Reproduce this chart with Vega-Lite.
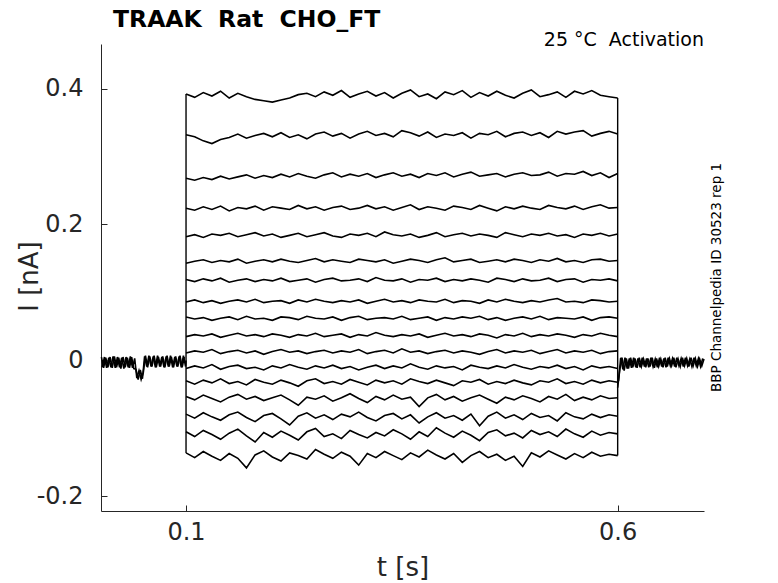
{
  "$schema": "https://vega.github.io/schema/vega-lite/v6.json",
  "width": 603,
  "height": 467,
  "autosize": {"type": "none"},
  "padding": {"left": 101, "top": 44, "right": 74, "bottom": 72},
  "background": "white",
  "title": {
    "text": "TRAAK\u00a0 Rat\u00a0 CHO_FT",
    "anchor": "start",
    "frame": "group",
    "dx": 12,
    "offset": -1,
    "font": "DejaVu Sans",
    "fontSize": 23.5,
    "fontWeight": "bold",
    "color": "#000000"
  },
  "config": {
    "view": {"stroke": null},
    "axis": {
      "grid": false,
      "domainColor": "#262626",
      "tickColor": "#262626",
      "labelColor": "#262626",
      "titleColor": "#262626",
      "labelFont": "DejaVu Sans",
      "titleFont": "DejaVu Sans",
      "labelFontSize": 24,
      "titleFontSize": 26,
      "titleFontWeight": "normal",
      "tickSize": -6,
      "tickWidth": 1,
      "domainWidth": 1
    }
  },
  "datasets": {
    "edges": [
      {"t": 0.1, "lo": -0.136, "hi": 0.392},
      {"t": 0.6, "lo": -0.140, "hi": 0.386}
    ],
    "traces": [
      {"k":0,"t":0.002,"v":0.005},{"k":0,"t":0.0045,"v":-0.011},{"k":0,"t":0.007,"v":0.004},{"k":0,"t":0.0095,"v":-0.010},{"k":0,"t":0.012,"v":0.005},{"k":0,"t":0.0145,"v":-0.011},{"k":0,"t":0.017,"v":0.006},{"k":0,"t":0.0195,"v":-0.010},{"k":0,"t":0.022,"v":0.004},{"k":0,"t":0.0245,"v":-0.012},{"k":0,"t":0.027,"v":0.005},{"k":0,"t":0.0295,"v":-0.010},{"k":0,"t":0.032,"v":0.004},{"k":0,"t":0.0345,"v":-0.011},{"k":0,"t":0.037,"v":0.005},{"k":0,"t":0.0395,"v":-0.012},{"k":0,"t":0.042,"v":-0.013},{"k":0,"t":0.0445,"v":-0.028},{"k":0,"t":0.047,"v":-0.014},{"k":0,"t":0.0495,"v":-0.027},{"k":0,"t":0.052,"v":0.006},{"k":0,"t":0.0545,"v":-0.009},{"k":0,"t":0.057,"v":0.007},{"k":0,"t":0.0595,"v":-0.009},{"k":0,"t":0.062,"v":0.006},{"k":0,"t":0.0645,"v":-0.010},{"k":0,"t":0.067,"v":0.007},{"k":0,"t":0.0695,"v":-0.009},{"k":0,"t":0.072,"v":0.005},{"k":0,"t":0.0745,"v":-0.010},{"k":0,"t":0.077,"v":0.006},{"k":0,"t":0.0795,"v":-0.009},{"k":0,"t":0.082,"v":0.007},{"k":0,"t":0.0845,"v":-0.010},{"k":0,"t":0.087,"v":0.005},{"k":0,"t":0.0895,"v":-0.009},{"k":0,"t":0.092,"v":0.006},{"k":0,"t":0.0945,"v":-0.010},{"k":0,"t":0.097,"v":0.007},{"k":0,"t":0.0995,"v":-0.009},{"k":0,"t":0.1,"v":0.0},

      {"k":19,"t":0.003,"v":-0.010},{"k":19,"t":0.0055,"v":0.005},{"k":19,"t":0.008,"v":-0.011},{"k":19,"t":0.0105,"v":0.004},{"k":19,"t":0.013,"v":-0.010},{"k":19,"t":0.0155,"v":0.006},{"k":19,"t":0.018,"v":-0.011},{"k":19,"t":0.0205,"v":0.005},{"k":19,"t":0.023,"v":-0.010},{"k":19,"t":0.0255,"v":0.004},{"k":19,"t":0.028,"v":-0.012},{"k":19,"t":0.0305,"v":0.005},{"k":19,"t":0.033,"v":-0.010},{"k":19,"t":0.0355,"v":0.006},{"k":19,"t":0.038,"v":-0.011},{"k":19,"t":0.0405,"v":0.003},{"k":19,"t":0.043,"v":-0.026},{"k":19,"t":0.0455,"v":-0.015},{"k":19,"t":0.048,"v":-0.028},{"k":19,"t":0.0505,"v":-0.018},{"k":19,"t":0.053,"v":0.007},{"k":19,"t":0.0555,"v":-0.010},{"k":19,"t":0.058,"v":0.006},{"k":19,"t":0.0605,"v":-0.009},{"k":19,"t":0.063,"v":0.007},{"k":19,"t":0.0655,"v":-0.010},{"k":19,"t":0.068,"v":0.005},{"k":19,"t":0.0705,"v":-0.009},{"k":19,"t":0.073,"v":0.006},{"k":19,"t":0.0755,"v":-0.010},{"k":19,"t":0.078,"v":0.007},{"k":19,"t":0.0805,"v":-0.009},{"k":19,"t":0.083,"v":0.005},{"k":19,"t":0.0855,"v":-0.010},{"k":19,"t":0.088,"v":0.006},{"k":19,"t":0.0905,"v":-0.009},{"k":19,"t":0.093,"v":0.007},{"k":19,"t":0.0955,"v":-0.010},{"k":19,"t":0.098,"v":0.005},

      {"k":18,"t":0.6,"v":-0.040},{"k":18,"t":0.6025,"v":-0.013},{"k":18,"t":0.605,"v":0.004},{"k":18,"t":0.6075,"v":-0.015},{"k":18,"t":0.61,"v":0.003},{"k":18,"t":0.6125,"v":-0.012},{"k":18,"t":0.615,"v":0.004},{"k":18,"t":0.6175,"v":-0.010},{"k":18,"t":0.62,"v":0.003},{"k":18,"t":0.6225,"v":-0.011},{"k":18,"t":0.625,"v":0.004},{"k":18,"t":0.6275,"v":-0.009},{"k":18,"t":0.63,"v":0.002},{"k":18,"t":0.6325,"v":-0.010},{"k":18,"t":0.635,"v":0.003},{"k":18,"t":0.6375,"v":-0.009},{"k":18,"t":0.64,"v":0.004},{"k":18,"t":0.6425,"v":-0.011},{"k":18,"t":0.645,"v":0.003},{"k":18,"t":0.6475,"v":-0.009},{"k":18,"t":0.65,"v":0.002},{"k":18,"t":0.6525,"v":-0.010},{"k":18,"t":0.655,"v":0.004},{"k":18,"t":0.6575,"v":-0.009},{"k":18,"t":0.66,"v":0.003},{"k":18,"t":0.6625,"v":-0.008},{"k":18,"t":0.665,"v":0.004},{"k":18,"t":0.6675,"v":-0.010},{"k":18,"t":0.67,"v":0.002},{"k":18,"t":0.6725,"v":-0.009},{"k":18,"t":0.675,"v":0.004},{"k":18,"t":0.6775,"v":-0.008},{"k":18,"t":0.68,"v":0.003},{"k":18,"t":0.6825,"v":-0.009},{"k":18,"t":0.685,"v":0.004},{"k":18,"t":0.6875,"v":-0.008},{"k":18,"t":0.69,"v":0.003},{"k":18,"t":0.6925,"v":-0.009},{"k":18,"t":0.695,"v":0.002},{"k":18,"t":0.6975,"v":-0.008},{"k":18,"t":0.7,"v":0.002},

      {"k":20,"t":0.601,"v":-0.030},{"k":20,"t":0.6035,"v":0.004},{"k":20,"t":0.606,"v":-0.013},{"k":20,"t":0.6085,"v":0.004},{"k":20,"t":0.611,"v":-0.012},{"k":20,"t":0.6135,"v":0.003},{"k":20,"t":0.616,"v":-0.011},{"k":20,"t":0.6185,"v":0.004},{"k":20,"t":0.621,"v":-0.010},{"k":20,"t":0.6235,"v":0.003},{"k":20,"t":0.626,"v":-0.010},{"k":20,"t":0.6285,"v":0.004},{"k":20,"t":0.631,"v":-0.009},{"k":20,"t":0.6335,"v":0.003},{"k":20,"t":0.636,"v":-0.010},{"k":20,"t":0.6385,"v":0.004},{"k":20,"t":0.641,"v":-0.009},{"k":20,"t":0.6435,"v":0.002},{"k":20,"t":0.646,"v":-0.010},{"k":20,"t":0.6485,"v":0.004},{"k":20,"t":0.651,"v":-0.009},{"k":20,"t":0.6535,"v":0.003},{"k":20,"t":0.656,"v":-0.010},{"k":20,"t":0.6585,"v":0.004},{"k":20,"t":0.661,"v":-0.008},{"k":20,"t":0.6635,"v":0.003},{"k":20,"t":0.666,"v":-0.009},{"k":20,"t":0.6685,"v":0.004},{"k":20,"t":0.671,"v":-0.008},{"k":20,"t":0.6735,"v":0.003},{"k":20,"t":0.676,"v":-0.009},{"k":20,"t":0.6785,"v":0.004},{"k":20,"t":0.681,"v":-0.008},{"k":20,"t":0.6835,"v":0.002},{"k":20,"t":0.686,"v":-0.009},{"k":20,"t":0.6885,"v":0.004},{"k":20,"t":0.691,"v":-0.008},{"k":20,"t":0.6935,"v":0.003},{"k":20,"t":0.696,"v":-0.009},{"k":20,"t":0.6985,"v":0.003},

      {"k":1,"t":0.1,"v":0.392},{"k":1,"t":0.11,"v":0.387},{"k":1,"t":0.12,"v":0.394},{"k":1,"t":0.13,"v":0.389},{"k":1,"t":0.14,"v":0.396},{"k":1,"t":0.15,"v":0.386},{"k":1,"t":0.16,"v":0.393},{"k":1,"t":0.17,"v":0.388},{"k":1,"t":0.18,"v":0.384},{"k":1,"t":0.19,"v":0.382},{"k":1,"t":0.2,"v":0.380},{"k":1,"t":0.21,"v":0.383},{"k":1,"t":0.22,"v":0.386},{"k":1,"t":0.23,"v":0.391},{"k":1,"t":0.24,"v":0.393},{"k":1,"t":0.25,"v":0.388},{"k":1,"t":0.26,"v":0.395},{"k":1,"t":0.27,"v":0.390},{"k":1,"t":0.28,"v":0.397},{"k":1,"t":0.29,"v":0.387},{"k":1,"t":0.3,"v":0.392},{"k":1,"t":0.31,"v":0.396},{"k":1,"t":0.32,"v":0.389},{"k":1,"t":0.33,"v":0.394},{"k":1,"t":0.34,"v":0.386},{"k":1,"t":0.35,"v":0.393},{"k":1,"t":0.36,"v":0.398},{"k":1,"t":0.37,"v":0.388},{"k":1,"t":0.38,"v":0.392},{"k":1,"t":0.39,"v":0.385},{"k":1,"t":0.4,"v":0.395},{"k":1,"t":0.41,"v":0.391},{"k":1,"t":0.42,"v":0.397},{"k":1,"t":0.43,"v":0.387},{"k":1,"t":0.44,"v":0.394},{"k":1,"t":0.45,"v":0.389},{"k":1,"t":0.46,"v":0.396},{"k":1,"t":0.47,"v":0.390},{"k":1,"t":0.48,"v":0.386},{"k":1,"t":0.49,"v":0.393},{"k":1,"t":0.5,"v":0.398},{"k":1,"t":0.51,"v":0.388},{"k":1,"t":0.52,"v":0.391},{"k":1,"t":0.53,"v":0.395},{"k":1,"t":0.54,"v":0.387},{"k":1,"t":0.55,"v":0.396},{"k":1,"t":0.56,"v":0.392},{"k":1,"t":0.57,"v":0.397},{"k":1,"t":0.58,"v":0.390},{"k":1,"t":0.59,"v":0.388},{"k":1,"t":0.6,"v":0.386},

      {"k":2,"t":0.1,"v":0.332},{"k":2,"t":0.11,"v":0.329},{"k":2,"t":0.12,"v":0.323},{"k":2,"t":0.13,"v":0.319},{"k":2,"t":0.14,"v":0.325},{"k":2,"t":0.15,"v":0.328},{"k":2,"t":0.16,"v":0.333},{"k":2,"t":0.17,"v":0.327},{"k":2,"t":0.18,"v":0.331},{"k":2,"t":0.19,"v":0.334},{"k":2,"t":0.2,"v":0.329},{"k":2,"t":0.21,"v":0.335},{"k":2,"t":0.22,"v":0.328},{"k":2,"t":0.23,"v":0.332},{"k":2,"t":0.24,"v":0.326},{"k":2,"t":0.25,"v":0.333},{"k":2,"t":0.26,"v":0.336},{"k":2,"t":0.27,"v":0.330},{"k":2,"t":0.28,"v":0.334},{"k":2,"t":0.29,"v":0.327},{"k":2,"t":0.3,"v":0.333},{"k":2,"t":0.31,"v":0.337},{"k":2,"t":0.32,"v":0.331},{"k":2,"t":0.33,"v":0.334},{"k":2,"t":0.34,"v":0.329},{"k":2,"t":0.35,"v":0.338},{"k":2,"t":0.36,"v":0.335},{"k":2,"t":0.37,"v":0.330},{"k":2,"t":0.38,"v":0.336},{"k":2,"t":0.39,"v":0.328},{"k":2,"t":0.4,"v":0.333},{"k":2,"t":0.41,"v":0.331},{"k":2,"t":0.42,"v":0.335},{"k":2,"t":0.43,"v":0.327},{"k":2,"t":0.44,"v":0.334},{"k":2,"t":0.45,"v":0.332},{"k":2,"t":0.46,"v":0.337},{"k":2,"t":0.47,"v":0.329},{"k":2,"t":0.48,"v":0.334},{"k":2,"t":0.49,"v":0.336},{"k":2,"t":0.5,"v":0.331},{"k":2,"t":0.51,"v":0.335},{"k":2,"t":0.52,"v":0.328},{"k":2,"t":0.53,"v":0.337},{"k":2,"t":0.54,"v":0.333},{"k":2,"t":0.55,"v":0.336},{"k":2,"t":0.56,"v":0.338},{"k":2,"t":0.57,"v":0.330},{"k":2,"t":0.58,"v":0.334},{"k":2,"t":0.59,"v":0.337},{"k":2,"t":0.6,"v":0.333},

      {"k":3,"t":0.1,"v":0.268},{"k":3,"t":0.11,"v":0.265},{"k":3,"t":0.12,"v":0.269},{"k":3,"t":0.13,"v":0.266},{"k":3,"t":0.14,"v":0.271},{"k":3,"t":0.15,"v":0.267},{"k":3,"t":0.16,"v":0.270},{"k":3,"t":0.17,"v":0.273},{"k":3,"t":0.18,"v":0.268},{"k":3,"t":0.19,"v":0.272},{"k":3,"t":0.2,"v":0.269},{"k":3,"t":0.21,"v":0.274},{"k":3,"t":0.22,"v":0.270},{"k":3,"t":0.23,"v":0.275},{"k":3,"t":0.24,"v":0.271},{"k":3,"t":0.25,"v":0.268},{"k":3,"t":0.26,"v":0.273},{"k":3,"t":0.27,"v":0.276},{"k":3,"t":0.28,"v":0.270},{"k":3,"t":0.29,"v":0.274},{"k":3,"t":0.3,"v":0.271},{"k":3,"t":0.31,"v":0.275},{"k":3,"t":0.32,"v":0.269},{"k":3,"t":0.33,"v":0.273},{"k":3,"t":0.34,"v":0.276},{"k":3,"t":0.35,"v":0.271},{"k":3,"t":0.36,"v":0.274},{"k":3,"t":0.37,"v":0.269},{"k":3,"t":0.38,"v":0.275},{"k":3,"t":0.39,"v":0.272},{"k":3,"t":0.4,"v":0.276},{"k":3,"t":0.41,"v":0.270},{"k":3,"t":0.42,"v":0.274},{"k":3,"t":0.43,"v":0.277},{"k":3,"t":0.44,"v":0.271},{"k":3,"t":0.45,"v":0.273},{"k":3,"t":0.46,"v":0.275},{"k":3,"t":0.47,"v":0.270},{"k":3,"t":0.48,"v":0.274},{"k":3,"t":0.49,"v":0.276},{"k":3,"t":0.5,"v":0.272},{"k":3,"t":0.51,"v":0.273},{"k":3,"t":0.52,"v":0.277},{"k":3,"t":0.53,"v":0.271},{"k":3,"t":0.54,"v":0.275},{"k":3,"t":0.55,"v":0.274},{"k":3,"t":0.56,"v":0.278},{"k":3,"t":0.57,"v":0.272},{"k":3,"t":0.58,"v":0.276},{"k":3,"t":0.59,"v":0.269},{"k":3,"t":0.6,"v":0.275},

      {"k":4,"t":0.1,"v":0.224},{"k":4,"t":0.11,"v":0.221},{"k":4,"t":0.12,"v":0.226},{"k":4,"t":0.13,"v":0.222},{"k":4,"t":0.14,"v":0.227},{"k":4,"t":0.15,"v":0.220},{"k":4,"t":0.16,"v":0.225},{"k":4,"t":0.17,"v":0.223},{"k":4,"t":0.18,"v":0.227},{"k":4,"t":0.19,"v":0.221},{"k":4,"t":0.2,"v":0.226},{"k":4,"t":0.21,"v":0.224},{"k":4,"t":0.22,"v":0.222},{"k":4,"t":0.23,"v":0.228},{"k":4,"t":0.24,"v":0.223},{"k":4,"t":0.25,"v":0.226},{"k":4,"t":0.26,"v":0.221},{"k":4,"t":0.27,"v":0.225},{"k":4,"t":0.28,"v":0.227},{"k":4,"t":0.29,"v":0.222},{"k":4,"t":0.3,"v":0.224},{"k":4,"t":0.31,"v":0.228},{"k":4,"t":0.32,"v":0.223},{"k":4,"t":0.33,"v":0.226},{"k":4,"t":0.34,"v":0.221},{"k":4,"t":0.35,"v":0.225},{"k":4,"t":0.36,"v":0.229},{"k":4,"t":0.37,"v":0.222},{"k":4,"t":0.38,"v":0.226},{"k":4,"t":0.39,"v":0.224},{"k":4,"t":0.4,"v":0.221},{"k":4,"t":0.41,"v":0.227},{"k":4,"t":0.42,"v":0.225},{"k":4,"t":0.43,"v":0.222},{"k":4,"t":0.44,"v":0.228},{"k":4,"t":0.45,"v":0.224},{"k":4,"t":0.46,"v":0.220},{"k":4,"t":0.47,"v":0.226},{"k":4,"t":0.48,"v":0.223},{"k":4,"t":0.49,"v":0.227},{"k":4,"t":0.5,"v":0.224},{"k":4,"t":0.51,"v":0.222},{"k":4,"t":0.52,"v":0.228},{"k":4,"t":0.53,"v":0.225},{"k":4,"t":0.54,"v":0.223},{"k":4,"t":0.55,"v":0.227},{"k":4,"t":0.56,"v":0.222},{"k":4,"t":0.57,"v":0.226},{"k":4,"t":0.58,"v":0.229},{"k":4,"t":0.59,"v":0.224},{"k":4,"t":0.6,"v":0.225},

      {"k":5,"t":0.1,"v":0.182},{"k":5,"t":0.11,"v":0.185},{"k":5,"t":0.12,"v":0.181},{"k":5,"t":0.13,"v":0.186},{"k":5,"t":0.14,"v":0.184},{"k":5,"t":0.15,"v":0.187},{"k":5,"t":0.16,"v":0.182},{"k":5,"t":0.17,"v":0.185},{"k":5,"t":0.18,"v":0.188},{"k":5,"t":0.19,"v":0.183},{"k":5,"t":0.2,"v":0.186},{"k":5,"t":0.21,"v":0.181},{"k":5,"t":0.22,"v":0.184},{"k":5,"t":0.23,"v":0.187},{"k":5,"t":0.24,"v":0.182},{"k":5,"t":0.25,"v":0.185},{"k":5,"t":0.26,"v":0.188},{"k":5,"t":0.27,"v":0.183},{"k":5,"t":0.28,"v":0.181},{"k":5,"t":0.29,"v":0.186},{"k":5,"t":0.3,"v":0.184},{"k":5,"t":0.31,"v":0.187},{"k":5,"t":0.32,"v":0.182},{"k":5,"t":0.33,"v":0.189},{"k":5,"t":0.34,"v":0.185},{"k":5,"t":0.35,"v":0.183},{"k":5,"t":0.36,"v":0.186},{"k":5,"t":0.37,"v":0.181},{"k":5,"t":0.38,"v":0.184},{"k":5,"t":0.39,"v":0.188},{"k":5,"t":0.4,"v":0.182},{"k":5,"t":0.41,"v":0.185},{"k":5,"t":0.42,"v":0.187},{"k":5,"t":0.43,"v":0.183},{"k":5,"t":0.44,"v":0.186},{"k":5,"t":0.45,"v":0.184},{"k":5,"t":0.46,"v":0.181},{"k":5,"t":0.47,"v":0.188},{"k":5,"t":0.48,"v":0.185},{"k":5,"t":0.49,"v":0.182},{"k":5,"t":0.5,"v":0.186},{"k":5,"t":0.51,"v":0.184},{"k":5,"t":0.52,"v":0.187},{"k":5,"t":0.53,"v":0.183},{"k":5,"t":0.54,"v":0.185},{"k":5,"t":0.55,"v":0.181},{"k":5,"t":0.56,"v":0.186},{"k":5,"t":0.57,"v":0.184},{"k":5,"t":0.58,"v":0.187},{"k":5,"t":0.59,"v":0.183},{"k":5,"t":0.6,"v":0.186},

      {"k":6,"t":0.1,"v":0.143},{"k":6,"t":0.11,"v":0.146},{"k":6,"t":0.12,"v":0.148},{"k":6,"t":0.13,"v":0.144},{"k":6,"t":0.14,"v":0.147},{"k":6,"t":0.15,"v":0.145},{"k":6,"t":0.16,"v":0.149},{"k":6,"t":0.17,"v":0.143},{"k":6,"t":0.18,"v":0.146},{"k":6,"t":0.19,"v":0.148},{"k":6,"t":0.2,"v":0.145},{"k":6,"t":0.21,"v":0.149},{"k":6,"t":0.22,"v":0.146},{"k":6,"t":0.23,"v":0.144},{"k":6,"t":0.24,"v":0.147},{"k":6,"t":0.25,"v":0.150},{"k":6,"t":0.26,"v":0.145},{"k":6,"t":0.27,"v":0.148},{"k":6,"t":0.28,"v":0.146},{"k":6,"t":0.29,"v":0.144},{"k":6,"t":0.3,"v":0.149},{"k":6,"t":0.31,"v":0.147},{"k":6,"t":0.32,"v":0.145},{"k":6,"t":0.33,"v":0.148},{"k":6,"t":0.34,"v":0.143},{"k":6,"t":0.35,"v":0.146},{"k":6,"t":0.36,"v":0.149},{"k":6,"t":0.37,"v":0.147},{"k":6,"t":0.38,"v":0.144},{"k":6,"t":0.39,"v":0.148},{"k":6,"t":0.4,"v":0.151},{"k":6,"t":0.41,"v":0.145},{"k":6,"t":0.42,"v":0.147},{"k":6,"t":0.43,"v":0.149},{"k":6,"t":0.44,"v":0.144},{"k":6,"t":0.45,"v":0.146},{"k":6,"t":0.46,"v":0.148},{"k":6,"t":0.47,"v":0.145},{"k":6,"t":0.48,"v":0.149},{"k":6,"t":0.49,"v":0.147},{"k":6,"t":0.5,"v":0.144},{"k":6,"t":0.51,"v":0.148},{"k":6,"t":0.52,"v":0.146},{"k":6,"t":0.53,"v":0.150},{"k":6,"t":0.54,"v":0.145},{"k":6,"t":0.55,"v":0.147},{"k":6,"t":0.56,"v":0.144},{"k":6,"t":0.57,"v":0.148},{"k":6,"t":0.58,"v":0.149},{"k":6,"t":0.59,"v":0.146},{"k":6,"t":0.6,"v":0.147},

      {"k":7,"t":0.1,"v":0.119},{"k":7,"t":0.11,"v":0.116},{"k":7,"t":0.12,"v":0.120},{"k":7,"t":0.13,"v":0.117},{"k":7,"t":0.14,"v":0.121},{"k":7,"t":0.15,"v":0.115},{"k":7,"t":0.16,"v":0.118},{"k":7,"t":0.17,"v":0.120},{"k":7,"t":0.18,"v":0.116},{"k":7,"t":0.19,"v":0.119},{"k":7,"t":0.2,"v":0.117},{"k":7,"t":0.21,"v":0.121},{"k":7,"t":0.22,"v":0.116},{"k":7,"t":0.23,"v":0.118},{"k":7,"t":0.24,"v":0.120},{"k":7,"t":0.25,"v":0.115},{"k":7,"t":0.26,"v":0.119},{"k":7,"t":0.27,"v":0.121},{"k":7,"t":0.28,"v":0.117},{"k":7,"t":0.29,"v":0.118},{"k":7,"t":0.3,"v":0.120},{"k":7,"t":0.31,"v":0.116},{"k":7,"t":0.32,"v":0.122},{"k":7,"t":0.33,"v":0.118},{"k":7,"t":0.34,"v":0.117},{"k":7,"t":0.35,"v":0.120},{"k":7,"t":0.36,"v":0.115},{"k":7,"t":0.37,"v":0.119},{"k":7,"t":0.38,"v":0.118},{"k":7,"t":0.39,"v":0.121},{"k":7,"t":0.4,"v":0.116},{"k":7,"t":0.41,"v":0.119},{"k":7,"t":0.42,"v":0.117},{"k":7,"t":0.43,"v":0.120},{"k":7,"t":0.44,"v":0.118},{"k":7,"t":0.45,"v":0.115},{"k":7,"t":0.46,"v":0.121},{"k":7,"t":0.47,"v":0.119},{"k":7,"t":0.48,"v":0.116},{"k":7,"t":0.49,"v":0.120},{"k":7,"t":0.5,"v":0.117},{"k":7,"t":0.51,"v":0.118},{"k":7,"t":0.52,"v":0.121},{"k":7,"t":0.53,"v":0.116},{"k":7,"t":0.54,"v":0.119},{"k":7,"t":0.55,"v":0.120},{"k":7,"t":0.56,"v":0.115},{"k":7,"t":0.57,"v":0.119},{"k":7,"t":0.58,"v":0.118},{"k":7,"t":0.59,"v":0.120},{"k":7,"t":0.6,"v":0.117},

      {"k":8,"t":0.1,"v":0.086},{"k":8,"t":0.11,"v":0.089},{"k":8,"t":0.12,"v":0.085},{"k":8,"t":0.13,"v":0.088},{"k":8,"t":0.14,"v":0.084},{"k":8,"t":0.15,"v":0.087},{"k":8,"t":0.16,"v":0.089},{"k":8,"t":0.17,"v":0.086},{"k":8,"t":0.18,"v":0.090},{"k":8,"t":0.19,"v":0.085},{"k":8,"t":0.2,"v":0.087},{"k":8,"t":0.21,"v":0.088},{"k":8,"t":0.22,"v":0.084},{"k":8,"t":0.23,"v":0.089},{"k":8,"t":0.24,"v":0.086},{"k":8,"t":0.25,"v":0.090},{"k":8,"t":0.26,"v":0.087},{"k":8,"t":0.27,"v":0.085},{"k":8,"t":0.28,"v":0.088},{"k":8,"t":0.29,"v":0.086},{"k":8,"t":0.3,"v":0.089},{"k":8,"t":0.31,"v":0.084},{"k":8,"t":0.32,"v":0.087},{"k":8,"t":0.33,"v":0.090},{"k":8,"t":0.34,"v":0.086},{"k":8,"t":0.35,"v":0.088},{"k":8,"t":0.36,"v":0.085},{"k":8,"t":0.37,"v":0.089},{"k":8,"t":0.38,"v":0.087},{"k":8,"t":0.39,"v":0.086},{"k":8,"t":0.4,"v":0.090},{"k":8,"t":0.41,"v":0.085},{"k":8,"t":0.42,"v":0.088},{"k":8,"t":0.43,"v":0.087},{"k":8,"t":0.44,"v":0.084},{"k":8,"t":0.45,"v":0.089},{"k":8,"t":0.46,"v":0.086},{"k":8,"t":0.47,"v":0.090},{"k":8,"t":0.48,"v":0.087},{"k":8,"t":0.49,"v":0.085},{"k":8,"t":0.5,"v":0.088},{"k":8,"t":0.51,"v":0.086},{"k":8,"t":0.52,"v":0.089},{"k":8,"t":0.53,"v":0.091},{"k":8,"t":0.54,"v":0.086},{"k":8,"t":0.55,"v":0.087},{"k":8,"t":0.56,"v":0.085},{"k":8,"t":0.57,"v":0.089},{"k":8,"t":0.58,"v":0.088},{"k":8,"t":0.59,"v":0.086},{"k":8,"t":0.6,"v":0.087},

      {"k":9,"t":0.1,"v":0.064},{"k":9,"t":0.11,"v":0.061},{"k":9,"t":0.12,"v":0.063},{"k":9,"t":0.13,"v":0.059},{"k":9,"t":0.14,"v":0.062},{"k":9,"t":0.15,"v":0.064},{"k":9,"t":0.16,"v":0.060},{"k":9,"t":0.17,"v":0.065},{"k":9,"t":0.18,"v":0.061},{"k":9,"t":0.19,"v":0.062},{"k":9,"t":0.2,"v":0.059},{"k":9,"t":0.21,"v":0.064},{"k":9,"t":0.22,"v":0.063},{"k":9,"t":0.23,"v":0.060},{"k":9,"t":0.24,"v":0.065},{"k":9,"t":0.25,"v":0.062},{"k":9,"t":0.26,"v":0.061},{"k":9,"t":0.27,"v":0.064},{"k":9,"t":0.28,"v":0.059},{"k":9,"t":0.29,"v":0.063},{"k":9,"t":0.3,"v":0.065},{"k":9,"t":0.31,"v":0.060},{"k":9,"t":0.32,"v":0.062},{"k":9,"t":0.33,"v":0.063},{"k":9,"t":0.34,"v":0.061},{"k":9,"t":0.35,"v":0.065},{"k":9,"t":0.36,"v":0.060},{"k":9,"t":0.37,"v":0.062},{"k":9,"t":0.38,"v":0.064},{"k":9,"t":0.39,"v":0.059},{"k":9,"t":0.4,"v":0.063},{"k":9,"t":0.41,"v":0.061},{"k":9,"t":0.42,"v":0.064},{"k":9,"t":0.43,"v":0.062},{"k":9,"t":0.44,"v":0.065},{"k":9,"t":0.45,"v":0.060},{"k":9,"t":0.46,"v":0.063},{"k":9,"t":0.47,"v":0.059},{"k":9,"t":0.48,"v":0.062},{"k":9,"t":0.49,"v":0.064},{"k":9,"t":0.5,"v":0.061},{"k":9,"t":0.51,"v":0.065},{"k":9,"t":0.52,"v":0.060},{"k":9,"t":0.53,"v":0.063},{"k":9,"t":0.54,"v":0.062},{"k":9,"t":0.55,"v":0.061},{"k":9,"t":0.56,"v":0.064},{"k":9,"t":0.57,"v":0.059},{"k":9,"t":0.58,"v":0.063},{"k":9,"t":0.59,"v":0.064},{"k":9,"t":0.6,"v":0.062},

      {"k":10,"t":0.1,"v":0.035},{"k":10,"t":0.11,"v":0.038},{"k":10,"t":0.12,"v":0.036},{"k":10,"t":0.13,"v":0.039},{"k":10,"t":0.14,"v":0.034},{"k":10,"t":0.15,"v":0.037},{"k":10,"t":0.16,"v":0.040},{"k":10,"t":0.17,"v":0.036},{"k":10,"t":0.18,"v":0.038},{"k":10,"t":0.19,"v":0.035},{"k":10,"t":0.2,"v":0.039},{"k":10,"t":0.21,"v":0.037},{"k":10,"t":0.22,"v":0.034},{"k":10,"t":0.23,"v":0.038},{"k":10,"t":0.24,"v":0.036},{"k":10,"t":0.25,"v":0.040},{"k":10,"t":0.26,"v":0.035},{"k":10,"t":0.27,"v":0.037},{"k":10,"t":0.28,"v":0.039},{"k":10,"t":0.29,"v":0.034},{"k":10,"t":0.3,"v":0.038},{"k":10,"t":0.31,"v":0.036},{"k":10,"t":0.32,"v":0.041},{"k":10,"t":0.33,"v":0.037},{"k":10,"t":0.34,"v":0.035},{"k":10,"t":0.35,"v":0.038},{"k":10,"t":0.36,"v":0.036},{"k":10,"t":0.37,"v":0.039},{"k":10,"t":0.38,"v":0.034},{"k":10,"t":0.39,"v":0.037},{"k":10,"t":0.4,"v":0.040},{"k":10,"t":0.41,"v":0.036},{"k":10,"t":0.42,"v":0.038},{"k":10,"t":0.43,"v":0.035},{"k":10,"t":0.44,"v":0.039},{"k":10,"t":0.45,"v":0.037},{"k":10,"t":0.46,"v":0.033},{"k":10,"t":0.47,"v":0.038},{"k":10,"t":0.48,"v":0.036},{"k":10,"t":0.49,"v":0.040},{"k":10,"t":0.5,"v":0.035},{"k":10,"t":0.51,"v":0.038},{"k":10,"t":0.52,"v":0.036},{"k":10,"t":0.53,"v":0.039},{"k":10,"t":0.54,"v":0.037},{"k":10,"t":0.55,"v":0.034},{"k":10,"t":0.56,"v":0.038},{"k":10,"t":0.57,"v":0.036},{"k":10,"t":0.58,"v":0.040},{"k":10,"t":0.59,"v":0.037},{"k":10,"t":0.6,"v":0.035},

      {"k":11,"t":0.1,"v":0.011},{"k":11,"t":0.11,"v":0.014},{"k":11,"t":0.12,"v":0.012},{"k":11,"t":0.13,"v":0.016},{"k":11,"t":0.14,"v":0.010},{"k":11,"t":0.15,"v":0.013},{"k":11,"t":0.16,"v":0.015},{"k":11,"t":0.17,"v":0.011},{"k":11,"t":0.18,"v":0.014},{"k":11,"t":0.19,"v":0.009},{"k":11,"t":0.2,"v":0.013},{"k":11,"t":0.21,"v":0.016},{"k":11,"t":0.22,"v":0.012},{"k":11,"t":0.23,"v":0.014},{"k":11,"t":0.24,"v":0.010},{"k":11,"t":0.25,"v":0.013},{"k":11,"t":0.26,"v":0.015},{"k":11,"t":0.27,"v":0.011},{"k":11,"t":0.28,"v":0.014},{"k":11,"t":0.29,"v":0.012},{"k":11,"t":0.3,"v":0.016},{"k":11,"t":0.31,"v":0.010},{"k":11,"t":0.32,"v":0.013},{"k":11,"t":0.33,"v":0.015},{"k":11,"t":0.34,"v":0.011},{"k":11,"t":0.35,"v":0.017},{"k":11,"t":0.36,"v":0.012},{"k":11,"t":0.37,"v":0.014},{"k":11,"t":0.38,"v":0.010},{"k":11,"t":0.39,"v":0.013},{"k":11,"t":0.4,"v":0.015},{"k":11,"t":0.41,"v":0.011},{"k":11,"t":0.42,"v":0.014},{"k":11,"t":0.43,"v":0.012},{"k":11,"t":0.44,"v":0.009},{"k":11,"t":0.45,"v":0.013},{"k":11,"t":0.46,"v":0.016},{"k":11,"t":0.47,"v":0.011},{"k":11,"t":0.48,"v":0.014},{"k":11,"t":0.49,"v":0.012},{"k":11,"t":0.5,"v":0.015},{"k":11,"t":0.51,"v":0.010},{"k":11,"t":0.52,"v":0.013},{"k":11,"t":0.53,"v":0.016},{"k":11,"t":0.54,"v":0.011},{"k":11,"t":0.55,"v":0.014},{"k":11,"t":0.56,"v":0.012},{"k":11,"t":0.57,"v":0.015},{"k":11,"t":0.58,"v":0.010},{"k":11,"t":0.59,"v":0.013},{"k":11,"t":0.6,"v":0.014},

      {"k":12,"t":0.1,"v":-0.012},{"k":12,"t":0.11,"v":-0.008},{"k":12,"t":0.12,"v":-0.011},{"k":12,"t":0.13,"v":-0.006},{"k":12,"t":0.14,"v":-0.013},{"k":12,"t":0.15,"v":-0.009},{"k":12,"t":0.16,"v":-0.007},{"k":12,"t":0.17,"v":-0.012},{"k":12,"t":0.18,"v":-0.010},{"k":12,"t":0.19,"v":-0.014},{"k":12,"t":0.2,"v":-0.008},{"k":12,"t":0.21,"v":-0.011},{"k":12,"t":0.22,"v":-0.006},{"k":12,"t":0.23,"v":-0.010},{"k":12,"t":0.24,"v":-0.013},{"k":12,"t":0.25,"v":-0.008},{"k":12,"t":0.26,"v":-0.011},{"k":12,"t":0.27,"v":-0.007},{"k":12,"t":0.28,"v":-0.012},{"k":12,"t":0.29,"v":-0.009},{"k":12,"t":0.3,"v":-0.014},{"k":12,"t":0.31,"v":-0.010},{"k":12,"t":0.32,"v":-0.007},{"k":12,"t":0.33,"v":-0.012},{"k":12,"t":0.34,"v":-0.008},{"k":12,"t":0.35,"v":-0.011},{"k":12,"t":0.36,"v":-0.005},{"k":12,"t":0.37,"v":-0.010},{"k":12,"t":0.38,"v":-0.013},{"k":12,"t":0.39,"v":-0.008},{"k":12,"t":0.4,"v":-0.011},{"k":12,"t":0.41,"v":-0.009},{"k":12,"t":0.42,"v":-0.014},{"k":12,"t":0.43,"v":-0.007},{"k":12,"t":0.44,"v":-0.010},{"k":12,"t":0.45,"v":-0.012},{"k":12,"t":0.46,"v":-0.008},{"k":12,"t":0.47,"v":-0.011},{"k":12,"t":0.48,"v":-0.006},{"k":12,"t":0.49,"v":-0.010},{"k":12,"t":0.5,"v":-0.013},{"k":12,"t":0.51,"v":-0.009},{"k":12,"t":0.52,"v":-0.011},{"k":12,"t":0.53,"v":-0.007},{"k":12,"t":0.54,"v":-0.012},{"k":12,"t":0.55,"v":-0.009},{"k":12,"t":0.56,"v":-0.014},{"k":12,"t":0.57,"v":-0.008},{"k":12,"t":0.58,"v":-0.011},{"k":12,"t":0.59,"v":-0.009},{"k":12,"t":0.6,"v":-0.012},

      {"k":13,"t":0.1,"v":-0.030},{"k":13,"t":0.11,"v":-0.035},{"k":13,"t":0.12,"v":-0.029},{"k":13,"t":0.13,"v":-0.033},{"k":13,"t":0.14,"v":-0.027},{"k":13,"t":0.15,"v":-0.034},{"k":13,"t":0.16,"v":-0.031},{"k":13,"t":0.17,"v":-0.036},{"k":13,"t":0.18,"v":-0.028},{"k":13,"t":0.19,"v":-0.032},{"k":13,"t":0.2,"v":-0.035},{"k":13,"t":0.21,"v":-0.029},{"k":13,"t":0.22,"v":-0.033},{"k":13,"t":0.23,"v":-0.038},{"k":13,"t":0.24,"v":-0.030},{"k":13,"t":0.25,"v":-0.027},{"k":13,"t":0.26,"v":-0.034},{"k":13,"t":0.27,"v":-0.031},{"k":13,"t":0.28,"v":-0.035},{"k":13,"t":0.29,"v":-0.028},{"k":13,"t":0.3,"v":-0.032},{"k":13,"t":0.31,"v":-0.036},{"k":13,"t":0.32,"v":-0.029},{"k":13,"t":0.33,"v":-0.033},{"k":13,"t":0.34,"v":-0.030},{"k":13,"t":0.35,"v":-0.035},{"k":13,"t":0.36,"v":-0.027},{"k":13,"t":0.37,"v":-0.031},{"k":13,"t":0.38,"v":-0.034},{"k":13,"t":0.39,"v":-0.029},{"k":13,"t":0.4,"v":-0.033},{"k":13,"t":0.41,"v":-0.037},{"k":13,"t":0.42,"v":-0.030},{"k":13,"t":0.43,"v":-0.032},{"k":13,"t":0.44,"v":-0.028},{"k":13,"t":0.45,"v":-0.035},{"k":13,"t":0.46,"v":-0.031},{"k":13,"t":0.47,"v":-0.034},{"k":13,"t":0.48,"v":-0.029},{"k":13,"t":0.49,"v":-0.033},{"k":13,"t":0.5,"v":-0.036},{"k":13,"t":0.51,"v":-0.030},{"k":13,"t":0.52,"v":-0.032},{"k":13,"t":0.53,"v":-0.027},{"k":13,"t":0.54,"v":-0.034},{"k":13,"t":0.55,"v":-0.031},{"k":13,"t":0.56,"v":-0.035},{"k":13,"t":0.57,"v":-0.029},{"k":13,"t":0.58,"v":-0.033},{"k":13,"t":0.59,"v":-0.030},{"k":13,"t":0.6,"v":-0.032},

      {"k":14,"t":0.1,"v":-0.053},{"k":14,"t":0.11,"v":-0.058},{"k":14,"t":0.12,"v":-0.051},{"k":14,"t":0.13,"v":-0.056},{"k":14,"t":0.14,"v":-0.061},{"k":14,"t":0.15,"v":-0.054},{"k":14,"t":0.16,"v":-0.050},{"k":14,"t":0.17,"v":-0.057},{"k":14,"t":0.18,"v":-0.053},{"k":14,"t":0.19,"v":-0.059},{"k":14,"t":0.2,"v":-0.055},{"k":14,"t":0.21,"v":-0.051},{"k":14,"t":0.22,"v":-0.058},{"k":14,"t":0.23,"v":-0.066},{"k":14,"t":0.24,"v":-0.054},{"k":14,"t":0.25,"v":-0.057},{"k":14,"t":0.26,"v":-0.052},{"k":14,"t":0.27,"v":-0.060},{"k":14,"t":0.28,"v":-0.055},{"k":14,"t":0.29,"v":-0.049},{"k":14,"t":0.3,"v":-0.056},{"k":14,"t":0.31,"v":-0.062},{"k":14,"t":0.32,"v":-0.053},{"k":14,"t":0.33,"v":-0.058},{"k":14,"t":0.34,"v":-0.051},{"k":14,"t":0.35,"v":-0.057},{"k":14,"t":0.36,"v":-0.054},{"k":14,"t":0.37,"v":-0.068},{"k":14,"t":0.38,"v":-0.055},{"k":14,"t":0.39,"v":-0.050},{"k":14,"t":0.4,"v":-0.058},{"k":14,"t":0.41,"v":-0.053},{"k":14,"t":0.42,"v":-0.060},{"k":14,"t":0.43,"v":-0.055},{"k":14,"t":0.44,"v":-0.051},{"k":14,"t":0.45,"v":-0.057},{"k":14,"t":0.46,"v":-0.063},{"k":14,"t":0.47,"v":-0.054},{"k":14,"t":0.48,"v":-0.058},{"k":14,"t":0.49,"v":-0.052},{"k":14,"t":0.5,"v":-0.056},{"k":14,"t":0.51,"v":-0.061},{"k":14,"t":0.52,"v":-0.053},{"k":14,"t":0.53,"v":-0.057},{"k":14,"t":0.54,"v":-0.050},{"k":14,"t":0.55,"v":-0.059},{"k":14,"t":0.56,"v":-0.054},{"k":14,"t":0.57,"v":-0.058},{"k":14,"t":0.58,"v":-0.052},{"k":14,"t":0.59,"v":-0.056},{"k":14,"t":0.6,"v":-0.055},

      {"k":15,"t":0.1,"v":-0.079},{"k":15,"t":0.11,"v":-0.085},{"k":15,"t":0.12,"v":-0.077},{"k":15,"t":0.13,"v":-0.083},{"k":15,"t":0.14,"v":-0.088},{"k":15,"t":0.15,"v":-0.080},{"k":15,"t":0.16,"v":-0.076},{"k":15,"t":0.17,"v":-0.084},{"k":15,"t":0.18,"v":-0.090},{"k":15,"t":0.19,"v":-0.081},{"k":15,"t":0.2,"v":-0.078},{"k":15,"t":0.21,"v":-0.086},{"k":15,"t":0.22,"v":-0.095},{"k":15,"t":0.23,"v":-0.082},{"k":15,"t":0.24,"v":-0.077},{"k":15,"t":0.25,"v":-0.085},{"k":15,"t":0.26,"v":-0.080},{"k":15,"t":0.27,"v":-0.087},{"k":15,"t":0.28,"v":-0.079},{"k":15,"t":0.29,"v":-0.083},{"k":15,"t":0.3,"v":-0.076},{"k":15,"t":0.31,"v":-0.084},{"k":15,"t":0.32,"v":-0.089},{"k":15,"t":0.33,"v":-0.081},{"k":15,"t":0.34,"v":-0.078},{"k":15,"t":0.35,"v":-0.086},{"k":15,"t":0.36,"v":-0.080},{"k":15,"t":0.37,"v":-0.092},{"k":15,"t":0.38,"v":-0.083},{"k":15,"t":0.39,"v":-0.077},{"k":15,"t":0.4,"v":-0.085},{"k":15,"t":0.41,"v":-0.081},{"k":15,"t":0.42,"v":-0.088},{"k":15,"t":0.43,"v":-0.079},{"k":15,"t":0.44,"v":-0.096},{"k":15,"t":0.45,"v":-0.082},{"k":15,"t":0.46,"v":-0.076},{"k":15,"t":0.47,"v":-0.085},{"k":15,"t":0.48,"v":-0.080},{"k":15,"t":0.49,"v":-0.087},{"k":15,"t":0.5,"v":-0.078},{"k":15,"t":0.51,"v":-0.084},{"k":15,"t":0.52,"v":-0.081},{"k":15,"t":0.53,"v":-0.089},{"k":15,"t":0.54,"v":-0.077},{"k":15,"t":0.55,"v":-0.083},{"k":15,"t":0.56,"v":-0.086},{"k":15,"t":0.57,"v":-0.079},{"k":15,"t":0.58,"v":-0.084},{"k":15,"t":0.59,"v":-0.080},{"k":15,"t":0.6,"v":-0.082},

      {"k":16,"t":0.1,"v":-0.105},{"k":16,"t":0.11,"v":-0.112},{"k":16,"t":0.12,"v":-0.103},{"k":16,"t":0.13,"v":-0.109},{"k":16,"t":0.14,"v":-0.116},{"k":16,"t":0.15,"v":-0.107},{"k":16,"t":0.16,"v":-0.101},{"k":16,"t":0.17,"v":-0.111},{"k":16,"t":0.18,"v":-0.120},{"k":16,"t":0.19,"v":-0.106},{"k":16,"t":0.2,"v":-0.113},{"k":16,"t":0.21,"v":-0.104},{"k":16,"t":0.22,"v":-0.110},{"k":16,"t":0.23,"v":-0.117},{"k":16,"t":0.24,"v":-0.105},{"k":16,"t":0.25,"v":-0.100},{"k":16,"t":0.26,"v":-0.112},{"k":16,"t":0.27,"v":-0.108},{"k":16,"t":0.28,"v":-0.115},{"k":16,"t":0.29,"v":-0.103},{"k":16,"t":0.3,"v":-0.109},{"k":16,"t":0.31,"v":-0.114},{"k":16,"t":0.32,"v":-0.106},{"k":16,"t":0.33,"v":-0.111},{"k":16,"t":0.34,"v":-0.102},{"k":16,"t":0.35,"v":-0.108},{"k":16,"t":0.36,"v":-0.116},{"k":16,"t":0.37,"v":-0.105},{"k":16,"t":0.38,"v":-0.112},{"k":16,"t":0.39,"v":-0.099},{"k":16,"t":0.4,"v":-0.107},{"k":16,"t":0.41,"v":-0.113},{"k":16,"t":0.42,"v":-0.104},{"k":16,"t":0.43,"v":-0.110},{"k":16,"t":0.44,"v":-0.118},{"k":16,"t":0.45,"v":-0.106},{"k":16,"t":0.46,"v":-0.102},{"k":16,"t":0.47,"v":-0.111},{"k":16,"t":0.48,"v":-0.107},{"k":16,"t":0.49,"v":-0.114},{"k":16,"t":0.5,"v":-0.103},{"k":16,"t":0.51,"v":-0.109},{"k":16,"t":0.52,"v":-0.105},{"k":16,"t":0.53,"v":-0.112},{"k":16,"t":0.54,"v":-0.101},{"k":16,"t":0.55,"v":-0.108},{"k":16,"t":0.56,"v":-0.113},{"k":16,"t":0.57,"v":-0.104},{"k":16,"t":0.58,"v":-0.110},{"k":16,"t":0.59,"v":-0.106},{"k":16,"t":0.6,"v":-0.108},

      {"k":17,"t":0.1,"v":-0.136},{"k":17,"t":0.11,"v":-0.143},{"k":17,"t":0.12,"v":-0.134},{"k":17,"t":0.13,"v":-0.141},{"k":17,"t":0.14,"v":-0.147},{"k":17,"t":0.15,"v":-0.137},{"k":17,"t":0.16,"v":-0.144},{"k":17,"t":0.17,"v":-0.158},{"k":17,"t":0.18,"v":-0.139},{"k":17,"t":0.19,"v":-0.133},{"k":17,"t":0.2,"v":-0.142},{"k":17,"t":0.21,"v":-0.148},{"k":17,"t":0.22,"v":-0.136},{"k":17,"t":0.23,"v":-0.140},{"k":17,"t":0.24,"v":-0.145},{"k":17,"t":0.25,"v":-0.131},{"k":17,"t":0.26,"v":-0.138},{"k":17,"t":0.27,"v":-0.144},{"k":17,"t":0.28,"v":-0.135},{"k":17,"t":0.29,"v":-0.141},{"k":17,"t":0.3,"v":-0.154},{"k":17,"t":0.31,"v":-0.137},{"k":17,"t":0.32,"v":-0.143},{"k":17,"t":0.33,"v":-0.134},{"k":17,"t":0.34,"v":-0.140},{"k":17,"t":0.35,"v":-0.146},{"k":17,"t":0.36,"v":-0.136},{"k":17,"t":0.37,"v":-0.142},{"k":17,"t":0.38,"v":-0.132},{"k":17,"t":0.39,"v":-0.139},{"k":17,"t":0.4,"v":-0.145},{"k":17,"t":0.41,"v":-0.137},{"k":17,"t":0.42,"v":-0.150},{"k":17,"t":0.43,"v":-0.140},{"k":17,"t":0.44,"v":-0.134},{"k":17,"t":0.45,"v":-0.143},{"k":17,"t":0.46,"v":-0.138},{"k":17,"t":0.47,"v":-0.147},{"k":17,"t":0.48,"v":-0.141},{"k":17,"t":0.49,"v":-0.156},{"k":17,"t":0.5,"v":-0.136},{"k":17,"t":0.51,"v":-0.142},{"k":17,"t":0.52,"v":-0.133},{"k":17,"t":0.53,"v":-0.139},{"k":17,"t":0.54,"v":-0.145},{"k":17,"t":0.55,"v":-0.137},{"k":17,"t":0.56,"v":-0.143},{"k":17,"t":0.57,"v":-0.135},{"k":17,"t":0.58,"v":-0.141},{"k":17,"t":0.59,"v":-0.138},{"k":17,"t":0.6,"v":-0.140}
    ]
  },
  "layer": [
    {
      "data": {"name": "traces"},
      "mark": {"type": "line", "color": "#000000", "strokeWidth": 1.6},
      "encoding": {
        "x": {
          "field": "t",
          "type": "quantitative",
          "scale": {"domain": [0.0015, 0.7], "nice": false, "zero": false},
          "axis": {
            "title": "t [s]",
            "values": [0.1, 0.6],
            "labelExpr": "'' + datum.value",
            "labelPadding": 15,
            "titleY": 56,
            "titleBaseline": "middle"
          }
        },
        "y": {
          "field": "v",
          "type": "quantitative",
          "scale": {"domain": [-0.2215, 0.4655], "nice": false, "zero": false},
          "axis": {
            "title": "I [nA]",
            "values": [-0.2, 0, 0.2, 0.4],
            "labelExpr": "'' + datum.value",
            "labelPadding": 24,
            "titleX": -72,
            "titleY": 232,
            "titleAlign": "center",
            "titleBaseline": "middle"
          }
        },
        "detail": {"field": "k", "type": "nominal"}
      }
    },
    {
      "data": {"name": "edges"},
      "mark": {"type": "rule", "color": "#000000", "strokeWidth": 1.4},
      "encoding": {
        "x": {"field": "t", "type": "quantitative"},
        "y": {"field": "lo", "type": "quantitative"},
        "y2": {"field": "hi"}
      }
    },
    {
      "data": {"values": [{"label": "25 °C\u00a0 Activation"}]},
      "mark": {"type": "text", "align": "right", "baseline": "middle", "font": "DejaVu Sans", "fontSize": 19, "color": "#000000"},
      "encoding": {
        "x": {"datum": 0.7, "type": "quantitative"},
        "y": {"datum": 0.4714, "type": "quantitative"},
        "text": {"field": "label"}
      }
    },
    {
      "data": {"values": [{"label": "BBP Channelpedia ID 30523 rep 1"}]},
      "mark": {"type": "text", "angle": 270, "align": "center", "baseline": "middle", "font": "DejaVu Sans", "fontSize": 13.5, "color": "#000000"},
      "encoding": {
        "x": {"datum": 0.7151, "type": "quantitative"},
        "y": {"datum": 0.1221, "type": "quantitative"},
        "text": {"field": "label"}
      }
    }
  ]
}
